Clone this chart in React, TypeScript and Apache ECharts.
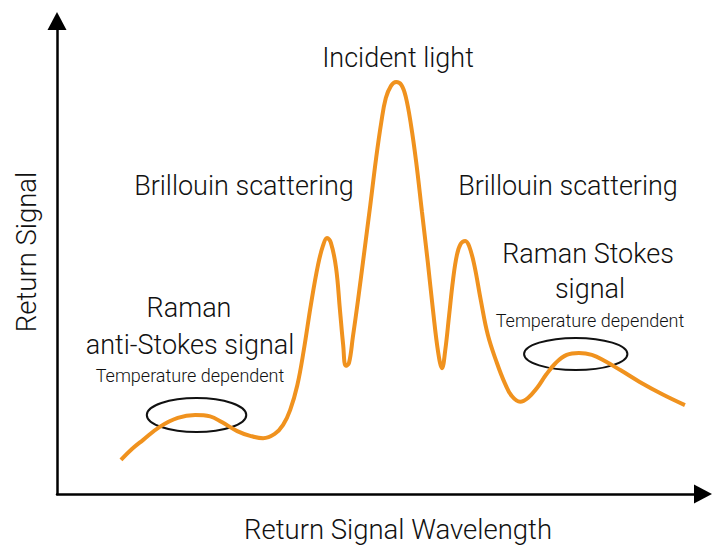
import React, { useEffect, useRef } from "react";
import * as echarts from "echarts";

// Curve (x: wavelength units 0-100, y: signal units 0-100)
const wavelength = [
  9.9, 11.6, 13.3, 15.9, 18.7, 21.4, 23.7, 25.5, 27.9, 29.9, 31.9, 33.7, 35.0, 36.1, 37.2, 38.2,
  39.3, 40.4, 41.2, 41.8, 42.4, 43.2, 43.8, 44.3, 44.7, 45.2, 45.8, 46.6, 47.5, 48.5, 49.4, 50.2,
  50.9, 51.7, 52.5, 53.3, 54.0, 54.8, 55.6, 56.5, 57.4, 58.2, 59.0, 59.6, 60.1, 60.7, 61.3, 61.9,
  62.5, 63.2, 63.8, 64.6, 65.6, 66.7, 68.1, 69.3, 70.4, 71.7, 72.9, 74.3, 75.7, 77.2, 78.9, 80.8,
  82.8, 84.8, 87.2, 90.2, 93.7, 97.2,
];
const signal = [
  7.2, 9.5, 11.4, 14.2, 16.1, 16.7, 16.4, 15.2, 13.3, 12.3, 11.8, 12.7, 14.6, 17.8, 23.0, 30.4,
  40.0, 48.4, 52.6, 54.1, 53.1, 47.8, 38.9, 31.5, 27.1, 27.7, 33.2, 41.0, 50.5, 61.1, 71.0, 78.6,
  83.7, 86.3, 87.1, 86.5, 83.9, 78.0, 70.2, 59.6, 49.0, 38.9, 30.0, 26.6, 30.4, 37.8, 45.2, 50.5,
  52.9, 53.5, 52.4, 48.4, 41.0, 33.6, 27.7, 23.5, 20.7, 19.5, 20.3, 22.4, 25.2, 27.7, 29.4, 29.8,
  29.4, 28.1, 26.2, 23.7, 21.1, 18.8,
];

// Ellipses marking the Raman bands: [centerX, centerY, radiusX, radiusY] in data units
const ramanMarks = [
  [21.6, 16.7, 7.7, 3.6],
  [80.3, 29.6, 8.0, 3.4],
];

const xAxisTitle = "Return Signal Wavelength";
const yAxisTitle = "Return Signal";

const FONT = "Roboto, 'Liberation Sans', sans-serif";
const ORANGE = "#F0921E";
const INK = "#111111";

function label(text: string, x: number, y: number, size: number, rotation = 0) {
  return {
    type: "text",
    x,
    y,
    rotation,
    z: 20,
    style: {
      text,
      x: 0,
      y: 0,
      align: "center",
      verticalAlign: "middle",
      fill: INK,
      font: `300 ${size}px ${FONT}`,
    },
  };
}

export default function App() {
  const ref = useRef<HTMLDivElement>(null);

  useEffect(() => {
    if (!ref.current) return;
    const chart = echarts.init(ref.current, undefined, { renderer: "svg" });
    const axisLine = (show: boolean) => ({
      show,
      symbol: ["none", "triangle"],
      symbolSize: [19, 18],
      lineStyle: { color: "#000", width: 2.5 },
    });
    chart.setOption({
      animation: false,
      backgroundColor: "#ffffff",
      grid: { left: 57, right: 10, top: 21, bottom: 52 },
      xAxis: {
        type: "value",
        min: 0,
        max: 100,
        axisLine: axisLine(true),
        axisTick: { show: false },
        axisLabel: { show: false },
        splitLine: { show: false },
      },
      yAxis: {
        type: "value",
        min: 0,
        max: 100,
        axisLine: axisLine(true),
        axisTick: { show: false },
        axisLabel: { show: false },
        splitLine: { show: false },
      },
      series: [
        {
          type: "custom",
          z: 2,
          data: ramanMarks,
          renderItem: (params: any, api: any) => {
            const c = api.coord([api.value(0), api.value(1)]);
            const s = api.size([api.value(2), api.value(3)]);
            return {
              type: "ellipse",
              shape: { cx: c[0], cy: c[1], rx: s[0], ry: s[1] },
              style: { fill: "none", stroke: "#111", lineWidth: 2 },
            };
          },
        },
        {
          type: "line",
          z: 3,
          data: wavelength.map((x, i) => [x, signal[i]]),
          smooth: 0.4,
          showSymbol: false,
          lineStyle: { color: ORANGE, width: 4 },
        },
      ],
      graphic: [
        label("Incident light", 398, 58, 27),
        label("Brillouin scattering", 244, 186, 27),
        label("Brillouin scattering", 568, 186, 27),
        label("Raman Stokes", 588, 254, 27),
        label("signal", 590, 289, 27),
        label("Temperature dependent", 590, 320, 18),
        label("Raman", 189, 308, 27),
        label("anti-Stokes signal", 190, 345, 27),
        label("Temperature dependent", 190, 375, 18),
        label(xAxisTitle, 398, 529, 27.5),
        label(yAxisTitle, 26, 252, 27.5, Math.PI / 2),
      ],
    });
    return () => chart.dispose();
  }, []);

  return <div ref={ref} style={{ width: 713, height: 546, position: "absolute", left: 0, top: 0 }} />;
}
